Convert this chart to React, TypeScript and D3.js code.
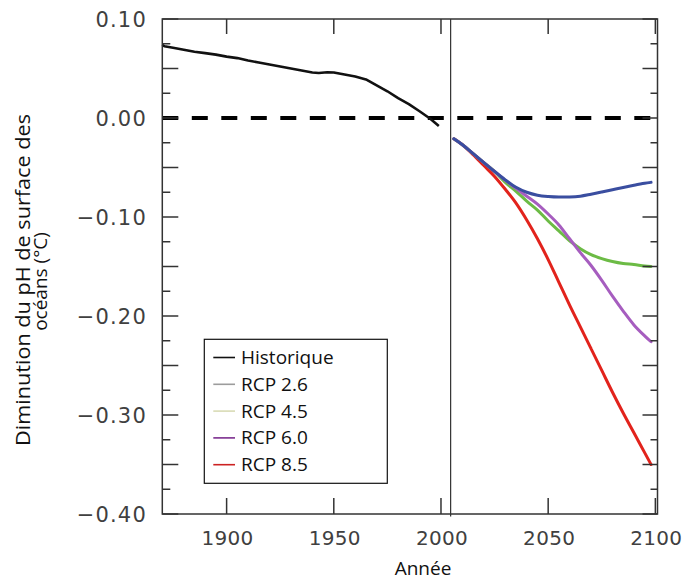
import React from 'react';
import * as d3 from 'd3';

const histYears = [1870, 1871, 1875, 1880, 1885, 1890, 1895, 1900, 1905, 1910, 1915, 1920, 1925, 1930, 1935, 1940, 1943, 1947, 1950, 1955, 1960, 1965, 1970, 1975, 1980, 1985, 1990, 1995, 1999];
const histValues = [0.074, 0.0725, 0.071, 0.069, 0.067, 0.0655, 0.064, 0.062, 0.0605, 0.058, 0.056, 0.054, 0.052, 0.050, 0.048, 0.046, 0.0455, 0.0462, 0.046, 0.044, 0.042, 0.039, 0.033, 0.027, 0.020, 0.014, 0.0068, -0.0008, -0.008];

const rcpYears = [2006, 2010, 2015, 2020, 2025, 2030, 2035, 2040, 2045, 2050, 2055, 2060, 2065, 2070, 2075, 2080, 2085, 2090, 2095, 2098];
const rcp26 = [-0.021, -0.027, -0.036, -0.045, -0.054, -0.0625, -0.070, -0.075, -0.078, -0.0793, -0.0798, -0.0797, -0.079, -0.077, -0.0748, -0.0725, -0.0702, -0.068, -0.066, -0.065];
const rcp45 = [-0.021, -0.027, -0.036, -0.045, -0.054, -0.065, -0.074, -0.084, -0.093, -0.104, -0.114, -0.124, -0.132, -0.138, -0.142, -0.145, -0.147, -0.148, -0.1495, -0.150];
const rcp60 = [-0.021, -0.027, -0.036, -0.045, -0.054, -0.063, -0.071, -0.079, -0.087, -0.097, -0.108, -0.122, -0.136, -0.149, -0.164, -0.180, -0.195, -0.209, -0.220, -0.226];
const rcp85 = [-0.021, -0.027, -0.037, -0.048, -0.059, -0.072, -0.086, -0.103, -0.122, -0.143, -0.166, -0.189, -0.211, -0.233, -0.255, -0.277, -0.298, -0.318, -0.338, -0.350];

const separatorYear = 2004.5;
const xTickYears = [1900, 1950, 2000, 2050, 2100];
const yLabelValues = [0.1, 0.0, -0.1, -0.2, -0.3, -0.4];
const yMinorStep = 0.025;

const legendLabels = ['Historique', 'RCP 2.6', 'RCP 4.5', 'RCP 6.0', 'RCP 8.5'];
const legendColors = ['#111111', '#9c9c9c', '#d8dbb5', '#7b2d8e', '#cc2222'];

const seriesColors = { hist: '#111111', rcp26: '#3a4ea0', rcp45: '#6cbb45', rcp60: '#a65dbf', rcp85: '#e2231c' };

const W = 686;
const H = 581;
const left = 162.3, right = 657.5, top = 19, bottom = 514;
const axisColor = '#333333';
const tickFont = 'DejaVu Sans, sans-serif';
const textFont = "'Open Sans', sans-serif";

export default function App() {
  const x = d3.scaleLinear().domain([1870, 2101]).range([left, right]);
  const y = d3.scaleLinear().domain([-0.4, 0.1]).range([bottom, top]);
  const fmt = d3.format('.2f');

  const histLine = d3.line<number>().x((_, i) => x(histYears[i])).y((d) => y(d));
  const rcpLine = d3.line<number>().x((_, i) => x(rcpYears[i])).y((d) => y(d)).curve(d3.curveMonotoneX);

  const yTicks = d3.range(0, 21).map((i) => -0.4 + i * yMinorStep);

  const series = [
    { v: rcp85, c: seriesColors.rcp85 },
    { v: rcp45, c: seriesColors.rcp45 },
    { v: rcp60, c: seriesColors.rcp60 },
    { v: rcp26, c: seriesColors.rcp26 },
  ];

  return (
    <svg width={W} height={H} style={{ position: 'absolute', left: 0, top: 0, background: '#fff' }}>
      <rect x={0} y={0} width={W} height={H} fill="#fff" />
      {/* zero dashed line */}
      <line x1={x(1870)} x2={right} y1={y(0)} y2={y(0)} stroke="#000" strokeWidth={4} strokeDasharray="16,13.5" />
      {/* separator */}
      <line x1={x(separatorYear)} x2={x(separatorYear)} y1={top} y2={bottom + 2.5} stroke={axisColor} strokeWidth={1.2} />
      {/* data */}
      <path d={histLine(histValues) || ''} fill="none" stroke={seriesColors.hist} strokeWidth={2.6} strokeLinejoin="round" />
      {series.map((s, i) => (
        <path key={i} d={rcpLine(s.v) || ''} fill="none" stroke={s.c} strokeWidth={3} strokeLinecap="round" />
      ))}
      {/* frame */}
      <rect x={left} y={top} width={right - left} height={bottom - top} fill="none" stroke={axisColor} strokeWidth={1.5} />
      {/* y ticks */}
      {yTicks.map((v, i) => {
        const major = i % 2 === 0;
        const len = major ? 16 : 8;
        const yy = y(v);
        return (
          <g key={'yt' + i}>
            <line x1={left} x2={left + len} y1={yy} y2={yy} stroke={axisColor} strokeWidth={1.5} />
            <line x1={right} x2={right - (major ? 15 : 7)} y1={yy} y2={yy} stroke={axisColor} strokeWidth={1.5} />
          </g>
        );
      })}
      {yLabelValues.map((v, i) => (
        <text key={'yl' + i} x={147} y={y(v)} dy="0.36em" textAnchor="end" fontFamily={tickFont} fontSize={21} letterSpacing={1.2} fill="#404040">
          {fmt(v)}
        </text>
      ))}
      {/* x ticks */}
      {xTickYears.map((yr, i) => (
        <g key={'xt' + i}>
          <line x1={x(yr)} x2={x(yr)} y1={bottom} y2={bottom - 16} stroke={axisColor} strokeWidth={1.5} />
          <line x1={x(yr)} x2={x(yr)} y1={top} y2={top + 15} stroke={axisColor} strokeWidth={1.5} />
          <text x={x(yr) + 1} y={545} textAnchor="middle" fontFamily={tickFont} fontSize={20} letterSpacing={0.3} fill="#404040">
            {yr}
          </text>
        </g>
      ))}
      {/* axis titles */}
      <text x={423} y={575} textAnchor="middle" fontFamily={textFont} fontSize={19} fill="#111">Année</text>
      <g transform="translate(29.5,280) rotate(-90)">
        <text x={0} y={0} textAnchor="middle" fontFamily={textFont} fontSize={20.5} fill="#111" textLength={332} lengthAdjust="spacingAndGlyphs">
          Diminution du pH de surface des
        </text>
      </g>
      <g transform="translate(46.7,281.5) rotate(-90)">
        <text x={0} y={0} textAnchor="middle" fontFamily={textFont} fontSize={19} fill="#111">
          océans (°C)
        </text>
      </g>
      {/* legend */}
      <rect x={204.3} y={339.3} width={183} height={144} fill="#fff" stroke="#111" strokeWidth={1.2} />
      {legendLabels.map((lab, i) => {
        const base = 364 + i * 26.8;
        return (
          <g key={'lg' + i}>
            <line x1={213.3} x2={235} y1={base - 6.5} y2={base - 6.5} stroke={legendColors[i]} strokeWidth={1.6} />
            <text x={241} y={base} fontFamily={textFont} fontSize={19} fill="#111">{lab}</text>
          </g>
        );
      })}
    </svg>
  );
}
